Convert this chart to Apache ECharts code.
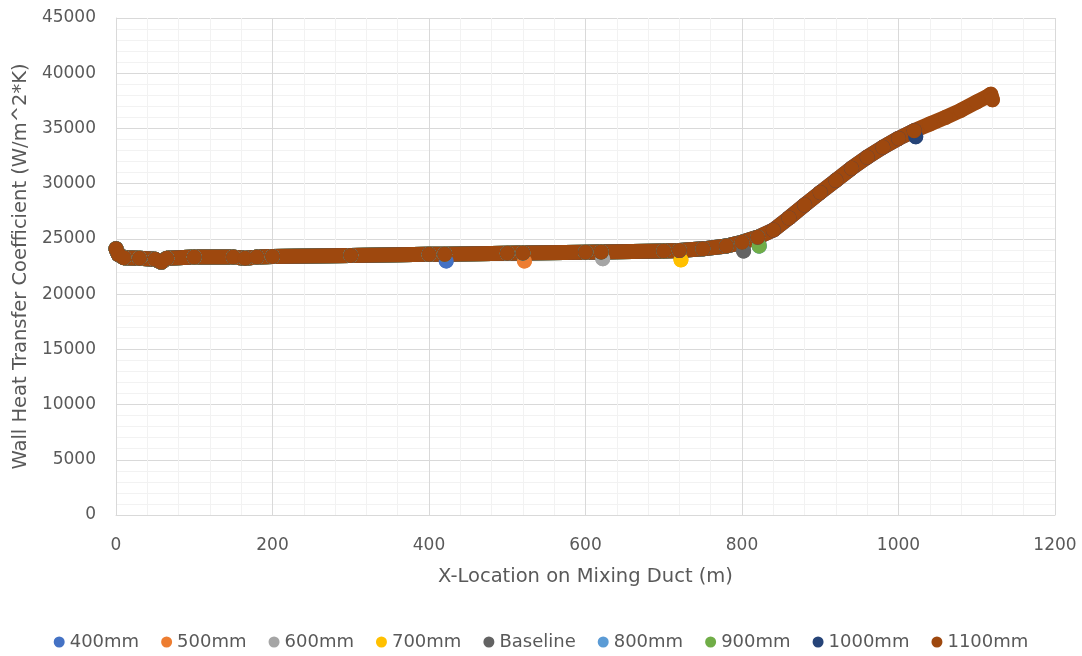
<!DOCTYPE html>
<html>
<head>
<meta charset="utf-8">
<script src="https://cdn.jsdelivr.net/npm/echarts@6/dist/echarts.min.js"></script>
<style>
html,body{margin:0;padding:0;background:#fff;}
#chart{width:1082px;height:656px;}
</style>
</head>
<body>
<div id="chart"></div>
<script>
// Shared wall heat transfer profile (x in m, HTC in W/m^2*K)
const profileX = [0, 3, 10, 30, 50, 58, 65, 100, 150, 165, 180, 200, 300, 400, 420, 500, 520, 600, 620, 700, 720, 750, 780, 800, 820, 840, 860, 880, 900, 920, 940, 960, 980, 1000, 1020, 1040, 1060, 1080, 1100, 1115, 1118];
const profileY = [24100, 23600, 23300, 23250, 23150, 22900, 23250, 23350, 23350, 23250, 23350, 23400, 23500, 23600, 23620, 23700, 23720, 23800, 23820, 23900, 23950, 24100, 24350, 24700, 25150, 25800, 26900, 28070, 29200, 30300, 31400, 32400, 33300, 34100, 34800, 35400, 36000, 36650, 37400, 37950, 38100];

const seriesNames = ['400mm', '500mm', '600mm', '700mm', 'Baseline', '800mm', '900mm', '1000mm', '1100mm'];
// Outlet (last) point of each series
const endX = [422, 522, 622, 722, 802, 822, 822, 1022, 1120];
const endY = [23000, 23000, 23200, 23100, 23900, 24350, 24350, 34250, 37600];
const colors = ['#4472C4', '#ED7D31', '#A5A5A5', '#FFC000', '#636363', '#5B9BD5', '#70AD47', '#264478', '#9E480E'];

const xTicks = [0, 200, 400, 600, 800, 1000, 1200];
const yTicks = [0, 5000, 10000, 15000, 20000, 25000, 30000, 35000, 40000, 45000];

const FONT = 'DejaVu Sans';
const TXT = '#595959';

const series = seriesNames.map((name, i) => {
  const data = [];
  for (let k = 0; k < profileX.length; k++) {
    if (profileX[k] <= endX[i] - 2) data.push([profileX[k], profileY[k]]);
  }
  data.push([endX[i], endY[i]]);
  return {
    name: name,
    type: 'line',
    data: data,
    smooth: false,
    symbol: 'circle',
    symbolSize: 15,
    showSymbol: true,
    itemStyle: { color: colors[i] },
    lineStyle: { color: colors[i], width: 15, cap: 'round', join: 'round' },
    animation: false
  };
});

const chart = echarts.init(document.getElementById('chart'), null, { renderer: 'canvas' });
chart.setOption({
  backgroundColor: '#ffffff',
  animation: false,
  color: colors,
  grid: { left: 116, right: 27, top: 18, bottom: 141, containLabel: false },
  legend: {
    data: seriesNames,
    top: 628,
    left: 'center',
    icon: 'circle',
    itemWidth: 11,
    itemHeight: 11,
    itemGap: 22,
    textStyle: { fontFamily: FONT, fontSize: 18, color: TXT }
  },
  xAxis: {
    type: 'value',
    min: xTicks[0],
    max: xTicks[xTicks.length - 1],
    interval: 200,
    name: 'X-Location on Mixing Duct (m)',
    nameLocation: 'middle',
    nameGap: 52,
    nameTextStyle: { fontFamily: FONT, fontSize: 19.5, color: TXT },
    axisLine: { show: true, lineStyle: { color: '#d9d9d9', width: 1 } },
    axisTick: { show: false },
    minorTick: { show: false, splitNumber: 5 },
    axisLabel: { fontFamily: FONT, fontSize: 17, color: TXT, margin: 22, formatter: v => String(v) },
    splitLine: { show: true, lineStyle: { color: '#d9d9d9', width: 1 } },
    minorSplitLine: { show: true, lineStyle: { color: '#f2f2f2', width: 1 } }
  },
  yAxis: {
    type: 'value',
    min: yTicks[0],
    max: yTicks[yTicks.length - 1],
    interval: 5000,
    name: 'Wall Heat Transfer Coefficient (W/m^2*K)',
    nameLocation: 'middle',
    nameGap: 85,
    nameTextStyle: { fontFamily: FONT, fontSize: 19.5, color: TXT },
    axisLine: { show: true, lineStyle: { color: '#d9d9d9', width: 1 } },
    axisTick: { show: false },
    minorTick: { show: false, splitNumber: 5 },
    axisLabel: { fontFamily: FONT, fontSize: 17, color: TXT, margin: 20, formatter: v => String(v) },
    splitLine: { show: true, lineStyle: { color: '#d9d9d9', width: 1 } },
    minorSplitLine: { show: true, lineStyle: { color: '#f2f2f2', width: 1 } }
  },
  series: series
});
</script>
</body>
</html>
